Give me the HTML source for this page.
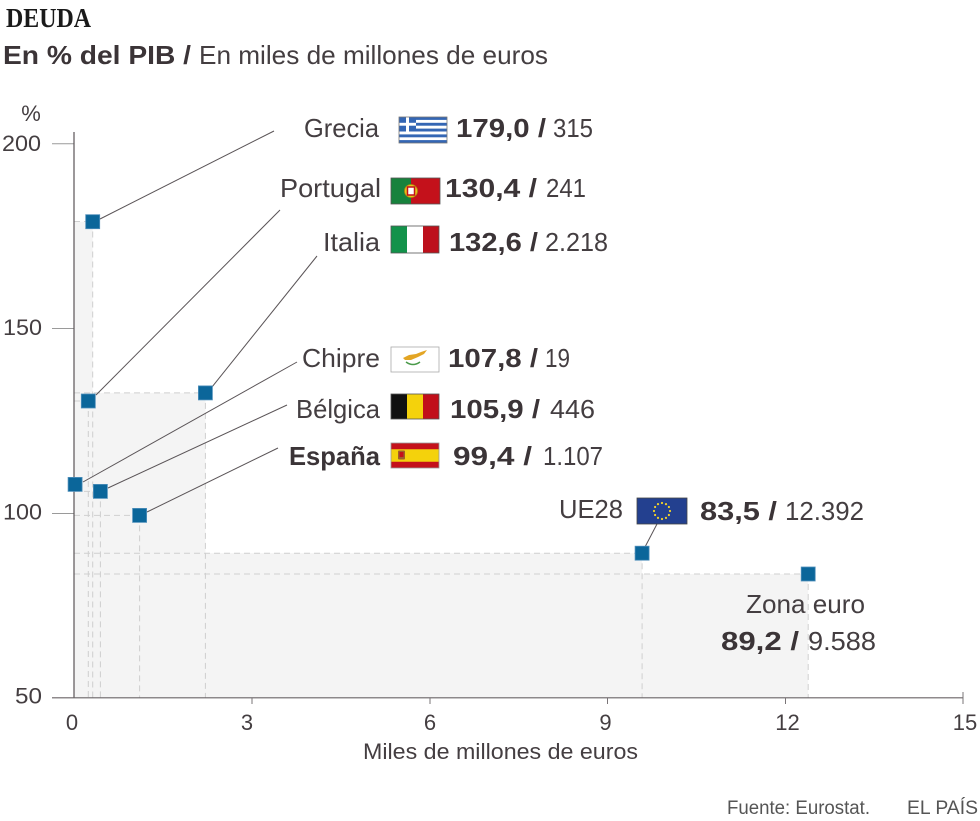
<!DOCTYPE html>
<html>
<head>
<meta charset="utf-8">
<style>
  html,body{margin:0;padding:0;background:#fff;}
  svg{display:block;}
  text{font-family:"Liberation Sans",sans-serif;fill:#443e41;}
  .b{font-weight:bold;fill:#3b3437;}
</style>
</head>
<body>
<svg width="980" height="821" viewBox="0 0 980 821" xmlns="http://www.w3.org/2000/svg">
  <!-- Title -->
  <text x="6" y="27" style="font-family:'Liberation Serif',serif;font-weight:bold;font-size:27px;fill:#1a1a1a" textLength="85" lengthAdjust="spacingAndGlyphs">DEUDA</text>
  <text x="3" y="64" class="b" font-size="26" textLength="188" lengthAdjust="spacingAndGlyphs">En % del PIB /</text>
  <text x="199" y="64" font-size="26" textLength="349" lengthAdjust="spacingAndGlyphs">En miles de millones de euros</text>

  <!-- Shaded areas -->
  <g fill="#f4f4f4">
    <rect x="74" y="221.7" width="18.7" height="476"/>
    <rect x="74" y="401" width="14.3" height="296.7"/>
    <rect x="74" y="392.9" width="131.4" height="304.8"/>
    <rect x="74" y="484.4" width="1.1" height="213.3"/>
    <rect x="74" y="491.4" width="26.4" height="206.3"/>
    <rect x="74" y="515.4" width="65.6" height="182.3"/>
    <rect x="74" y="553.2" width="568.1" height="144.5"/>
    <rect x="74" y="574" width="734.2" height="123.7"/>
  </g>

  <!-- Dashed guides -->
  <g stroke="#cfcfcf" stroke-width="1" stroke-dasharray="6,4" fill="none">
    <path d="M74 221.5H92.7M92.7 221.5V697.7"/>
    <path d="M74 401H88.3M88.3 401V697.7"/>
    <path d="M74 392.9H205.4M205.4 392.9V697.7"/>
    <path d="M74 491.4H100.4M100.4 491.4V697.7"/>
    <path d="M74 515.4H139.6M139.6 515.4V697.7"/>
    <path d="M74 553.2H642.1M642.1 553.2V697.7"/>
    <path d="M74 574H808.2M808.2 574V697.7"/>
  </g>

  <!-- Axes -->
  <g stroke="#9a9a9a" stroke-width="1">
    <line x1="52" y1="143.8" x2="74" y2="143.8"/>
    <line x1="52" y1="328.5" x2="74" y2="328.5"/>
    <line x1="52" y1="513.5" x2="74" y2="513.5"/>
  </g>
  <line x1="74" y1="132" x2="74" y2="698" stroke="#5a5457" stroke-width="1.2"/>
  <line x1="52" y1="697.8" x2="963" y2="697.8" stroke="#6a6467" stroke-width="1.2"/>
  <g stroke="#7a7477" stroke-width="1">
    <line x1="252" y1="698" x2="252" y2="704"/>
    <line x1="430" y1="698" x2="430" y2="704"/>
    <line x1="607.5" y1="698" x2="607.5" y2="704"/>
    <line x1="785.5" y1="698" x2="785.5" y2="704"/>
    <line x1="963" y1="692" x2="963" y2="704"/>
  </g>

  <!-- Axis labels -->
  <g font-size="22">
    <text x="31" y="121" text-anchor="middle">%</text>
    <text x="41" y="151" text-anchor="end" textLength="39" lengthAdjust="spacingAndGlyphs">200</text>
    <text x="42" y="335" text-anchor="end" textLength="39" lengthAdjust="spacingAndGlyphs">150</text>
    <text x="42" y="519.5" text-anchor="end" textLength="39" lengthAdjust="spacingAndGlyphs">100</text>
    <text x="42" y="703.5" text-anchor="end" textLength="27" lengthAdjust="spacingAndGlyphs">50</text>
    <text x="72" y="730" text-anchor="middle">0</text>
    <text x="247" y="730" text-anchor="middle">3</text>
    <text x="430" y="730" text-anchor="middle">6</text>
    <text x="605.5" y="730" text-anchor="middle">9</text>
    <text x="787.5" y="730" text-anchor="middle">12</text>
    <text x="965" y="730" text-anchor="middle">15</text>
    <text x="363" y="759" textLength="275" lengthAdjust="spacingAndGlyphs">Miles de millones de euros</text>
  </g>

  <!-- Leader lines -->
  <g stroke="#5a5457" stroke-width="1">
    <line x1="100" y1="219" x2="274" y2="131"/>
    <line x1="96" y1="395" x2="280" y2="210"/>
    <line x1="212" y1="387" x2="317" y2="256"/>
    <line x1="83" y1="482" x2="297" y2="362"/>
    <line x1="108" y1="488" x2="287" y2="405"/>
    <line x1="147" y1="512" x2="278" y2="448"/>
    <line x1="645" y1="547" x2="657" y2="524"/>
  </g>

  <!-- Markers -->
  <g fill="#0b669a" stroke="#4f8fbb" stroke-width="0.8">
    <rect x="85.7" y="214.7" width="14" height="14"/>
    <rect x="81.3" y="394" width="14" height="14"/>
    <rect x="198.4" y="385.9" width="14" height="14"/>
    <rect x="68.1" y="477.4" width="14" height="14"/>
    <rect x="93.4" y="484.4" width="14" height="14"/>
    <rect x="132.6" y="508.4" width="14" height="14"/>
    <rect x="635.1" y="546.2" width="14" height="14"/>
    <rect x="801.2" y="567" width="14" height="14"/>
  </g>

  <!-- Flags -->
  <!-- Greece -->
  <g>
    <rect x="399" y="117" width="48" height="26" fill="#fff"/>
    <g fill="#3466b4">
      <rect x="399" y="117" width="48" height="2.9"/>
      <rect x="399" y="122.8" width="48" height="2.9"/>
      <rect x="399" y="128.6" width="48" height="2.9"/>
      <rect x="399" y="134.4" width="48" height="2.9"/>
      <rect x="399" y="140.1" width="48" height="2.9"/>
      <rect x="399" y="117" width="17" height="14.5"/>
    </g>
    <rect x="406" y="117" width="3" height="14.5" fill="#fff"/>
    <rect x="399" y="122.8" width="17" height="2.9" fill="#fff"/>
    <rect x="399" y="117" width="48" height="26" fill="none" stroke="#777" stroke-width="0.8"/>
  </g>
  <!-- Portugal -->
  <g>
    <rect x="391" y="178" width="20" height="26" fill="#17823d"/>
    <rect x="411" y="178" width="29" height="26" fill="#c4111b"/>
    <circle cx="411" cy="191" r="6.5" fill="#e8c21a" stroke="#b08a10" stroke-width="0.8"/>
    <rect x="407.5" y="187" width="7" height="8" fill="#fff" stroke="#c4111b" stroke-width="1.5"/>
    <rect x="391" y="178" width="49" height="26" fill="none" stroke="#555" stroke-width="0.8"/>
  </g>
  <!-- Italy -->
  <g>
    <rect x="391" y="226" width="16" height="27" fill="#12924a"/>
    <rect x="407" y="226" width="16" height="27" fill="#fff"/>
    <rect x="423" y="226" width="16" height="27" fill="#bd101c"/>
    <rect x="391" y="226" width="48" height="27" fill="none" stroke="#555" stroke-width="0.8"/>
  </g>
  <!-- Cyprus -->
  <g>
    <rect x="391" y="347" width="48" height="25" fill="#fff" stroke="#aaa" stroke-width="0.8"/>
    <path d="M403 358 L409 355 L416 354 L421 352 L427 350 L424 354 L418 357 L411 360 L405 360 Z" fill="#e3a524"/>
    <path d="M406 362 Q413 367 420 362" fill="none" stroke="#4a9a4a" stroke-width="1.5"/>
  </g>
  <!-- Belgium -->
  <g>
    <rect x="391" y="394" width="16" height="25" fill="#111"/>
    <rect x="407" y="394" width="16" height="25" fill="#f4d20c"/>
    <rect x="423" y="394" width="16" height="25" fill="#c10f1a"/>
    <rect x="391" y="394" width="48" height="25" fill="none" stroke="#555" stroke-width="0.8"/>
  </g>
  <!-- Spain -->
  <g>
    <rect x="391" y="443" width="48" height="25" fill="#c4111b"/>
    <rect x="391" y="449.25" width="48" height="12.5" fill="#f4d20c"/>
    <rect x="398" y="450.5" width="7" height="9" fill="#a0602a" rx="1"/>
    <rect x="399.5" y="452" width="4" height="5" fill="#c4111b"/>
    <rect x="391" y="443" width="48" height="25" fill="none" stroke="#999" stroke-width="0.8"/>
  </g>
  <!-- EU -->
  <g>
    <rect x="637" y="498" width="50" height="26" fill="#23408f" stroke="#444" stroke-width="0.8"/>
    <g fill="#f2d22a">
      <circle cx="662" cy="503" r="1.1"/>
      <circle cx="666" cy="504.1" r="1.1"/>
      <circle cx="668.9" cy="507" r="1.1"/>
      <circle cx="670" cy="511" r="1.1"/>
      <circle cx="668.9" cy="515" r="1.1"/>
      <circle cx="666" cy="517.9" r="1.1"/>
      <circle cx="662" cy="519" r="1.1"/>
      <circle cx="658" cy="517.9" r="1.1"/>
      <circle cx="655.1" cy="515" r="1.1"/>
      <circle cx="654" cy="511" r="1.1"/>
      <circle cx="655.1" cy="507" r="1.1"/>
      <circle cx="658" cy="504.1" r="1.1"/>
    </g>
  </g>

  <!-- Country labels -->
  <g font-size="26">
    <text x="304" y="137" textLength="75" lengthAdjust="spacingAndGlyphs">Grecia</text>
    <text x="280" y="197" textLength="101" lengthAdjust="spacingAndGlyphs">Portugal</text>
    <text x="323" y="251" textLength="57" lengthAdjust="spacingAndGlyphs">Italia</text>
    <text x="302" y="367" textLength="78" lengthAdjust="spacingAndGlyphs">Chipre</text>
    <text x="296" y="418" textLength="84" lengthAdjust="spacingAndGlyphs">Bélgica</text>
    <text x="289" y="465" class="b" textLength="91" lengthAdjust="spacingAndGlyphs">España</text>
    <text x="559" y="518" textLength="64" lengthAdjust="spacingAndGlyphs">UE28</text>
    <text x="746" y="613" textLength="119" lengthAdjust="spacingAndGlyphs">Zona euro</text>
  </g>

  <!-- Values -->
  <g font-size="26">
    <text x="456" y="137" class="b" textLength="90" lengthAdjust="spacingAndGlyphs">179,0 /</text>
    <text x="553" y="137" textLength="40" lengthAdjust="spacingAndGlyphs">315</text>

    <text x="445" y="197" class="b" textLength="92" lengthAdjust="spacingAndGlyphs">130,4 /</text>
    <text x="546" y="197" textLength="40" lengthAdjust="spacingAndGlyphs">241</text>

    <text x="449" y="251" class="b" textLength="89" lengthAdjust="spacingAndGlyphs">132,6 /</text>
    <text x="545" y="251" textLength="63" lengthAdjust="spacingAndGlyphs">2.218</text>

    <text x="448" y="367" class="b" textLength="90" lengthAdjust="spacingAndGlyphs">107,8 /</text>
    <text x="545" y="367" textLength="25" lengthAdjust="spacingAndGlyphs">19</text>

    <text x="450" y="418" class="b" textLength="90" lengthAdjust="spacingAndGlyphs">105,9 /</text>
    <text x="550" y="418" textLength="45" lengthAdjust="spacingAndGlyphs">446</text>

    <text x="453" y="465" class="b" textLength="79" lengthAdjust="spacingAndGlyphs">99,4 /</text>
    <text x="543" y="465" textLength="60" lengthAdjust="spacingAndGlyphs">1.107</text>

    <text x="700" y="520" class="b" textLength="77" lengthAdjust="spacingAndGlyphs">83,5 /</text>
    <text x="785" y="520" textLength="79" lengthAdjust="spacingAndGlyphs">12.392</text>

    <text x="721" y="650" class="b" textLength="78" lengthAdjust="spacingAndGlyphs">89,2 /</text>
    <text x="808" y="650" textLength="68" lengthAdjust="spacingAndGlyphs">9.588</text>
  </g>

  <!-- Footer -->
  <g font-size="19">
    <text x="727" y="814" textLength="143" lengthAdjust="spacingAndGlyphs" style="fill:#555">Fuente: Eurostat.</text>
    <text x="907" y="814" textLength="71" lengthAdjust="spacingAndGlyphs" style="fill:#555">EL PAÍS</text>
  </g>
</svg>
</body>
</html>
